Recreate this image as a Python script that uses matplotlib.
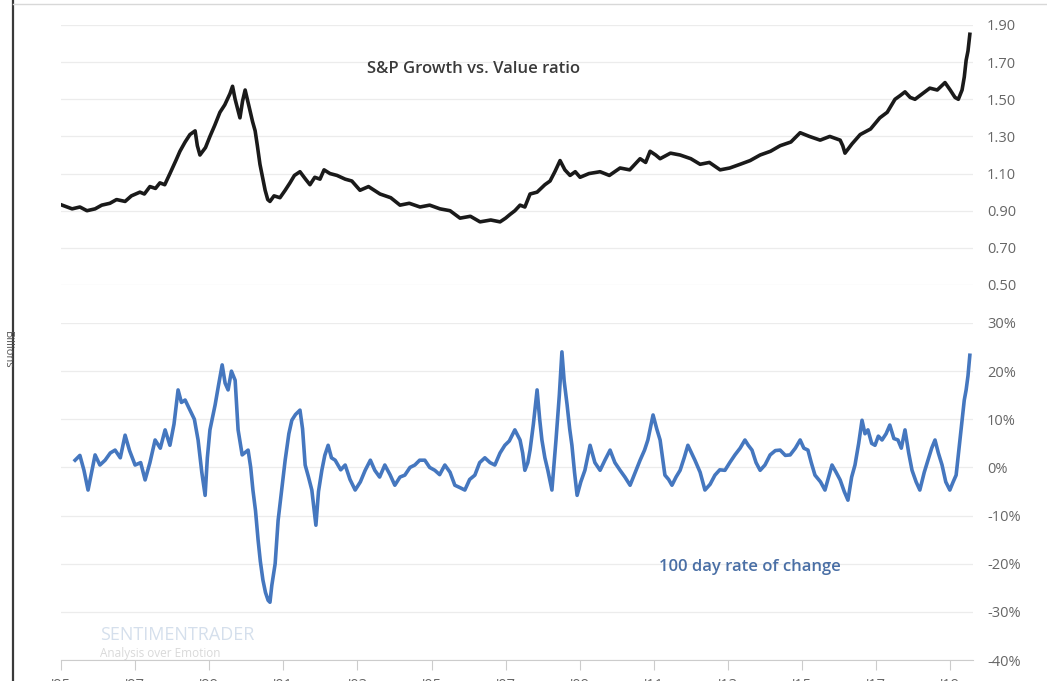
import matplotlib.pyplot as plt
from matplotlib.ticker import FuncFormatter

plt.rcParams['font.family'] = ['Open Sans', 'DejaVu Sans']

# growth / value ratio (decimal year, ratio)
ratio_years = [1995.03, 1995.3, 1995.51, 1995.7, 1995.92, 1996.1, 1996.32, 1996.5, 1996.73, 1996.9,
               1997.13, 1997.25, 1997.40, 1997.55, 1997.67, 1997.8, 1997.94, 1998.1, 1998.21, 1998.35,
               1998.48, 1998.62, 1998.68, 1998.75, 1998.9, 1999.02, 1999.15, 1999.29, 1999.42, 1999.56,
               1999.63, 1999.70, 1999.83, 1999.9, 1999.97, 2000.03, 2000.10, 2000.17, 2000.24, 2000.3,
               2000.37, 2000.44, 2000.51, 2000.58, 2000.64, 2000.75, 2000.91, 2001.05, 2001.18, 2001.3,
               2001.45, 2001.6, 2001.72, 2001.85, 2001.99, 2002.1, 2002.26, 2002.45, 2002.67, 2002.85,
               2003.07, 2003.3, 2003.61, 2003.9, 2004.15, 2004.4, 2004.69, 2004.95, 2005.23, 2005.5,
               2005.77, 2006.05, 2006.31, 2006.6, 2006.85, 2007.0, 2007.12, 2007.25, 2007.39, 2007.52,
               2007.66, 2007.85, 2008.06, 2008.2, 2008.33, 2008.40, 2008.47, 2008.6, 2008.74, 2008.88,
               2009.01, 2009.25, 2009.55, 2009.8, 2010.09, 2010.35, 2010.63, 2010.78, 2010.90, 2011.05,
               2011.17, 2011.45, 2011.71, 2012.0, 2012.25, 2012.5, 2012.79, 2013.05, 2013.33, 2013.6,
               2013.87, 2014.15, 2014.41, 2014.7, 2014.95, 2015.2, 2015.49, 2015.75, 2016.03, 2016.1,
               2016.16, 2016.35, 2016.57, 2016.85, 2017.10, 2017.3, 2017.51, 2017.65, 2017.78, 2017.92,
               2018.05, 2018.25, 2018.45, 2018.65, 2018.86, 2019.0, 2019.13, 2019.22, 2019.32, 2019.38,
               2019.43, 2019.48, 2019.53]
ratio_vals = [0.93, 0.91, 0.92, 0.90, 0.91, 0.93, 0.94, 0.96, 0.95, 0.98,
              1.00, 0.99, 1.03, 1.02, 1.05, 1.04, 1.10, 1.17, 1.22, 1.27,
              1.31, 1.33, 1.25, 1.20, 1.24, 1.30, 1.36, 1.43, 1.47, 1.53,
              1.57, 1.50, 1.40, 1.49, 1.55, 1.50, 1.44, 1.38, 1.33, 1.25,
              1.15, 1.08, 1.01, 0.96, 0.95, 0.98, 0.97, 1.01, 1.05, 1.09,
              1.11, 1.07, 1.04, 1.08, 1.07, 1.12, 1.10, 1.09, 1.07, 1.06,
              1.01, 1.03, 0.99, 0.97, 0.93, 0.94, 0.92, 0.93, 0.91, 0.90,
              0.86, 0.87, 0.84, 0.85, 0.84, 0.86, 0.88, 0.90, 0.93, 0.92,
              0.99, 1.00, 1.04, 1.06, 1.11, 1.14, 1.17, 1.12, 1.09, 1.11,
              1.08, 1.10, 1.11, 1.09, 1.13, 1.12, 1.18, 1.16, 1.22, 1.20,
              1.18, 1.21, 1.20, 1.18, 1.15, 1.16, 1.12, 1.13, 1.15, 1.17,
              1.20, 1.22, 1.25, 1.27, 1.32, 1.30, 1.28, 1.30, 1.28, 1.25,
              1.21, 1.26, 1.31, 1.34, 1.40, 1.43, 1.50, 1.52, 1.54, 1.51,
              1.50, 1.53, 1.56, 1.55, 1.59, 1.55, 1.51, 1.50, 1.55, 1.62,
              1.71, 1.76, 1.85]

# 100 day rate of change, percent
roc_years = [1995.38, 1995.51, 1995.62, 1995.73, 1995.92, 1996.05, 1996.19, 1996.33, 1996.46, 1996.6,
             1996.73, 1996.85, 1997.00, 1997.15, 1997.27, 1997.4, 1997.54, 1997.68, 1997.81, 1997.94,
             1998.05, 1998.16, 1998.25, 1998.35, 1998.48, 1998.6, 1998.70, 1998.8, 1998.89, 1998.95,
             1999.02, 1999.16, 1999.25, 1999.35, 1999.43, 1999.51, 1999.60, 1999.70, 1999.78, 1999.89,
             2000.05, 2000.12, 2000.18, 2000.25, 2000.32, 2000.38, 2000.45, 2000.52, 2000.59, 2000.64,
             2000.69, 2000.78, 2000.86, 2000.95, 2001.05, 2001.15, 2001.23, 2001.33, 2001.45, 2001.52,
             2001.59, 2001.68, 2001.77, 2001.88, 2001.95, 2002.04, 2002.12, 2002.21, 2002.30, 2002.40,
             2002.55, 2002.67, 2002.8, 2002.94, 2003.08, 2003.21, 2003.35, 2003.47, 2003.6, 2003.74,
             2003.88, 2004.01, 2004.15, 2004.28, 2004.42, 2004.55, 2004.68, 2004.82, 2004.95, 2005.09,
             2005.22, 2005.36, 2005.5, 2005.63, 2005.77, 2005.90, 2006.03, 2006.17, 2006.3, 2006.44,
             2006.58, 2006.71, 2006.85, 2006.98, 2007.1, 2007.25, 2007.39, 2007.46, 2007.52, 2007.6,
             2007.66, 2007.75, 2007.85, 2007.92, 2007.98, 2008.06, 2008.14, 2008.25, 2008.36, 2008.45,
             2008.52, 2008.58, 2008.66, 2008.73, 2008.79, 2008.86, 2008.93, 2009.03, 2009.14, 2009.28,
             2009.41, 2009.55, 2009.68, 2009.82, 2009.95, 2010.09, 2010.22, 2010.36, 2010.5, 2010.63,
             2010.75, 2010.84, 2010.98, 2011.08, 2011.17, 2011.30, 2011.4, 2011.49, 2011.6, 2011.71,
             2011.82, 2011.92, 2012.11, 2012.25, 2012.38, 2012.52, 2012.65, 2012.78, 2012.92, 2013.05,
             2013.19, 2013.33, 2013.46, 2013.55, 2013.65, 2013.76, 2013.87, 2014.0, 2014.14, 2014.28,
             2014.41, 2014.55, 2014.68, 2014.82, 2014.95, 2015.05, 2015.16, 2015.25, 2015.35, 2015.5,
             2015.62, 2015.72, 2015.81, 2015.92, 2016.03, 2016.14, 2016.24, 2016.34, 2016.43, 2016.53,
             2016.62, 2016.7, 2016.78, 2016.88, 2016.97, 2017.06, 2017.16, 2017.27, 2017.37, 2017.48,
             2017.59, 2017.68, 2017.78, 2017.88, 2017.97, 2018.08, 2018.18, 2018.3, 2018.40, 2018.5,
             2018.59, 2018.68, 2018.78, 2018.88, 2018.99, 2019.08, 2019.16, 2019.24, 2019.32, 2019.38,
             2019.43, 2019.48, 2019.53]
roc_vals = [1.5, 2.5, -0.6, -4.7, 2.6, 0.5, 1.5, 3.0, 3.6, 2.0,
            6.7, 3.5, 0.5, 1.0, -2.6, 1.0, 5.7, 4.0, 7.8, 4.6,
            9.0, 16.1, 13.5, 14.0, 11.9, 10.0, 5.7, -1.0, -5.8, 2.0,
            7.8, 13.0, 17.0, 21.3, 17.5, 16.1, 20.0, 18.1, 7.8, 2.6,
            3.6, 0.0, -4.7, -9.0, -15.1, -19.5, -23.4, -26.0, -27.6, -28.0,
            -24.5, -20.0, -11.0, -5.0, 1.5, 7.0, 9.8, 11.0, 11.9, 8.0,
            0.5, -2.0, -4.7, -12.0, -5.0, -0.6, 2.5, 4.6, 2.0, 1.5,
            -0.5, 0.5, -2.5, -4.7, -3.0, -0.6, 1.5, -0.6, -2.0, 0.5,
            -1.5, -3.7, -2.0, -1.6, 0.0, 0.5, 1.5, 1.5, 0.0, -0.6,
            -1.5, 0.5, -1.0, -3.7, -4.2, -4.7, -2.5, -1.6, 1.0, 2.0,
            1.0, 0.5, 3.0, 4.6, 5.5, 7.8, 5.7, 3.0, -0.6, 1.0,
            3.6, 9.0, 16.1, 10.0, 5.7, 2.0, -0.6, -4.7, 5.7, 15.0,
            24.0, 18.0, 13.0, 8.0, 4.6, -1.0, -5.8, -3.0, -0.6, 4.6,
            1.0, -0.6, 1.5, 3.6, 1.0, -0.6, -2.0, -3.7, -1.0, 1.5,
            3.6, 5.7, 10.9, 8.0, 5.7, -1.6, -2.5, -3.7, -2.0, -0.6,
            2.0, 4.6, 1.5, -1.0, -4.7, -3.5, -1.6, -0.5, -0.6, 1.0,
            2.6, 4.0, 5.7, 4.6, 3.6, 1.0, -0.6, 0.5, 2.6, 3.5,
            3.6, 2.5, 2.6, 4.0, 5.7, 4.0, 3.6, 1.0, -1.6, -3.0,
            -4.7, -2.0, 0.5, -1.0, -2.6, -5.0, -6.8, -2.0, 0.5, 5.0,
            9.8, 7.0, 7.8, 5.0, 4.6, 6.5, 5.7, 7.0, 8.8, 6.0,
            5.7, 4.0, 7.8, 3.0, -0.6, -3.0, -4.7, -1.0, 1.5, 4.0,
            5.7, 3.0, 0.5, -3.0, -4.7, -3.0, -1.6, 4.0, 9.8, 14.0,
            16.1, 19.0, 23.3]

ratio_ticks = [0.50, 0.70, 0.90, 1.10, 1.30, 1.50, 1.70, 1.90]
roc_ticks = [-30, -20, -10, 0, 10, 20, 30]
year_ticks = list(range(1995, 2020, 2))
year_labels = ["'" + str(y)[2:] for y in year_ticks]

fig = plt.figure(figsize=(10.47, 6.81), dpi=100)
W, H = 1047, 681
x0, x1 = 61, 973
grid_c = '#ececec'
lab_c = '#666666'

ax_top = fig.add_axes([x0 / W, 1 - 285 / H, (x1 - x0) / W, 260 / H])
ax_bot = fig.add_axes([x0 / W, 1 - 660 / H, (x1 - x0) / W, 337 / H])

for ax in (ax_top, ax_bot):
    ax.set_xlim(1995.0, 1995 + (x1 - x0) / 37.05)
    for s in ax.spines.values():
        s.set_visible(False)
    ax.yaxis.tick_right()
    ax.tick_params(axis='y', length=0, pad=10, labelsize=10.5, labelcolor=lab_c)
    ax.grid(axis='y', color=grid_c, linewidth=0.9)
    ax.set_axisbelow(True)

ax_top.plot(ratio_years, ratio_vals, color='#1a1a1a', linewidth=2.6, solid_joinstyle='round')
ax_top.set_ylim(0.50, 1.90)
ax_top.set_yticks(ratio_ticks)
ax_top.yaxis.set_major_formatter(FuncFormatter(lambda v, p: f'{v:.2f}'))
ax_top.set_xticks([])
ax_top.text(0.335, 0.815, 'S&P Growth vs. Value ratio', transform=ax_top.transAxes,
            fontsize=12, fontweight='semibold', color='#3a3a3a')

ax_bot.plot(roc_years, roc_vals, color='#4577bf', linewidth=2.6, solid_joinstyle='round')
ax_bot.set_ylim(-40, 30)
ax_bot.set_yticks(roc_ticks + [-40])
ax_bot.yaxis.set_major_formatter(FuncFormatter(lambda v, p: f'{v:.0f}%'))
ax_bot.spines['bottom'].set_visible(True)
ax_bot.spines['bottom'].set_color('#cccccc')
ax_bot.set_xticks(year_ticks)
ax_bot.set_xticklabels(year_labels)
ax_bot.tick_params(axis='x', length=7, color='#cccccc', pad=6, labelsize=10.5, labelcolor=lab_c)
ax_bot.text(0.656, 0.265, '100 day rate of change', transform=ax_bot.transAxes,
            fontsize=12, fontweight='semibold', color='#4a6fa5')

# faint watermark
fig.text(100 / W, 1 - 640 / H, 'SENTIMENTRADER', fontsize=13, color='#b9cbe0', alpha=0.6)
fig.text(100 / W, 1 - 657 / H, 'Analysis over Emotion', fontsize=8.5, color='#c0c0c0', alpha=0.6)

# frame bits at the edge of the screenshot
fig.add_artist(plt.Line2D([13 / W, 13 / W], [0, 1], color='#3a3a3a', linewidth=1.6))
fig.add_artist(plt.Line2D([13 / W, 1], [1 - 4 / H, 1 - 4 / H], color='#d8d8d8', linewidth=1))
fig.text(2 / W, 1 - 350 / H, 'Billions', rotation=270, fontsize=8, color='#555555', va='center')

fig.savefig('out.png', dpi=100)
